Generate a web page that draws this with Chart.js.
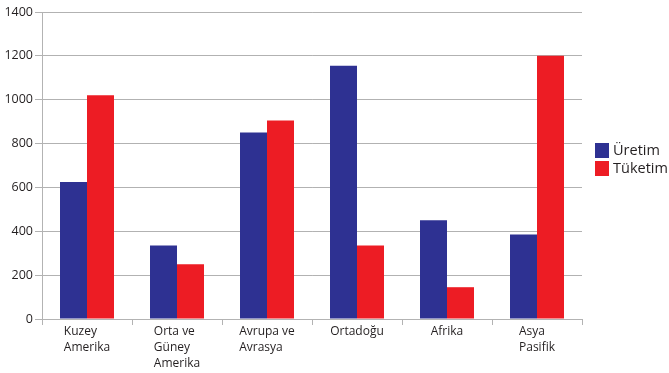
<!DOCTYPE html>
<html>
<head>
<meta charset="utf-8">
<script src="https://cdn.jsdelivr.net/npm/chart.js@4"></script>
<style>
  html, body { margin: 0; padding: 0; background: #fff; }
  #wrap { width: 669px; height: 373px; position: relative; }
</style>
</head>
<body>
<div id="wrap"><canvas id="c"></canvas></div>
<script>
// Regions (multi-line labels)
const regions = [
  ['Kuzey', 'Amerika'],
  ['Orta ve', 'Güney', 'Amerika'],
  ['Avrupa ve', 'Avrasya'],
  ['Ortadoğu'],
  ['Afrika'],
  ['Asya', 'Pasifik']
];
const uretim = [625, 335, 850, 1155, 450, 385];
const tuketim = [1020, 250, 905, 335, 145, 1200];
const yTicks = [0, 200, 400, 600, 800, 1000, 1200, 1400];

const BLUE = '#2e3192';
const RED = '#ed1c24';
const TEXT = '#231f20';
const FONT = '"Open Sans", sans-serif';

// Left-aligned multi-line category labels, block centred under each category
const xLabels = {
  id: 'xLabels',
  afterDraw(chart) {
    const ctx = chart.ctx;
    const x = chart.scales.x;
    ctx.save();
    ctx.font = '12px ' + FONT;
    ctx.fillStyle = TEXT;
    ctx.textAlign = 'left';
    ctx.textBaseline = 'alphabetic';
    regions.forEach((lines, i) => {
      const cx = x.getPixelForValue(i);
      const w = Math.max(...lines.map(l => ctx.measureText(l).width));
      const left = cx - w / 2;
      lines.forEach((l, j) => ctx.fillText(l, left, x.top + 16 + j * 16));
    });
    ctx.restore();
  }
};

// Legend on the right side
const sideLegend = {
  id: 'sideLegend',
  afterDraw(chart) {
    const ctx = chart.ctx;
    const x0 = chart.chartArea.right + 13;
    const y0 = 143;
    ctx.save();
    ctx.font = '14.5px ' + FONT;
    ctx.textBaseline = 'middle';
    ctx.textAlign = 'left';
    chart.data.datasets.forEach((ds, i) => {
      const y = y0 + i * 18;
      ctx.fillStyle = ds.backgroundColor;
      ctx.fillRect(x0, y, 14, 15);
      ctx.fillStyle = TEXT;
      ctx.fillText(ds.label, x0 + 18, y + 8);
    });
    ctx.restore();
  }
};

new Chart(document.getElementById('c'), {
  type: 'bar',
  data: {
    labels: regions.map(r => r.join(' ')),
    datasets: [
      { label: 'Üretim', data: uretim, backgroundColor: BLUE, borderWidth: 0 },
      { label: 'Tüketim', data: tuketim, backgroundColor: RED, borderWidth: 0 }
    ]
  },
  options: {
    responsive: true,
    maintainAspectRatio: false,
    animation: false,
    events: [],
    layout: { padding: { left: 0, right: 87, top: 12, bottom: 0 } },
    datasets: { bar: { categoryPercentage: 0.6, barPercentage: 1.0 } },
    plugins: { legend: { display: false }, tooltip: { enabled: false } },
    scales: {
      x: {
        offset: true,
        grid: {
          offset: true,
          drawOnChartArea: false,
          drawTicks: true,
          tickLength: 6,
          color: '#b3b3b3',
          lineWidth: 1
        },
        border: { display: true, color: '#b3b3b3', width: 1 },
        ticks: { display: false },
        afterFit(scale) { scale.height = 54; }
      },
      y: {
        min: 0,
        max: 1400,
        z: 1,
        afterBuildTicks(scale) { scale.ticks = yTicks.map(v => ({ value: v })); },
        grid: {
          color: 'rgba(0,0,0,0.3)',
          lineWidth: 1,
          drawTicks: true,
          tickLength: 7
        },
        border: { display: true, color: '#b3b3b3', width: 1 },
        ticks: {
          padding: 2,
          color: TEXT,
          font: { family: FONT, size: 12.5 },
          callback: v => String(v)
        },
        afterFit(scale) { scale.width = 42; }
      }
    }
  },
  plugins: [xLabels, sideLegend]
});
</script>
</body>
</html>
